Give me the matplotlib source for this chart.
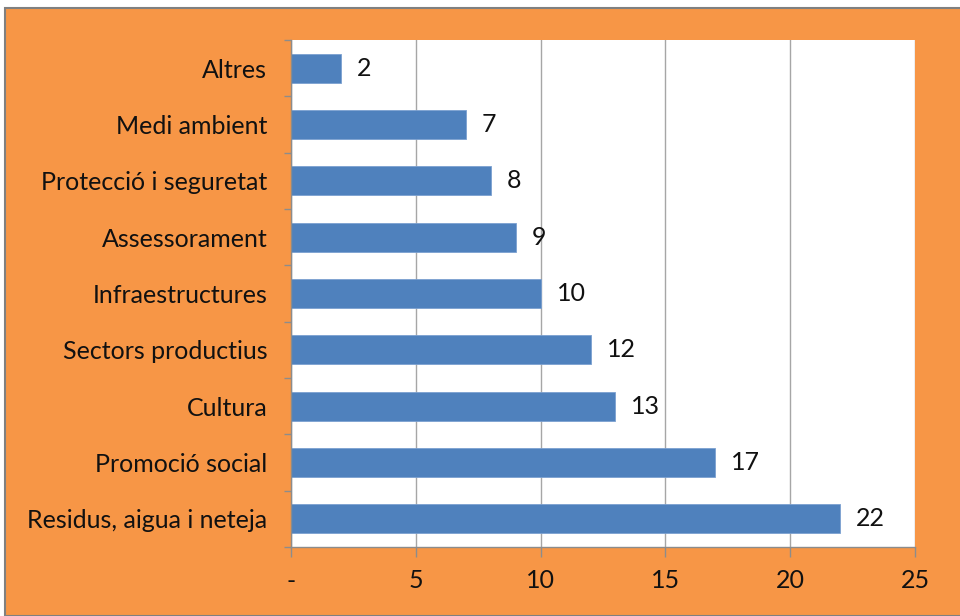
import matplotlib.pyplot as plt
from matplotlib.patches import Rectangle

# Categories from top to bottom and their counts
categories = ['Altres', 'Medi ambient', 'Protecció i seguretat', 'Assessorament',
              'Infraestructures', 'Sectors productius', 'Cultura',
              'Promoció social', 'Residus, aigua i neteja']
values = [2, 7, 8, 9, 10, 12, 13, 17, 22]
xticks = [0, 5, 10, 15, 20, 25]
xtick_labels = ['-', '5', '10', '15', '20', '25']

orange = '#F79646'
blue = '#4F81BD'
grey = '#8C8C8C'
plt.rcParams['font.family'] = ['Lato', 'DejaVu Sans']

fig = plt.figure(figsize=(9.6, 6.16), dpi=100, facecolor='white')

# orange chart area with a thin grey border, kept behind the axes
W, H = 960, 616
frame = Rectangle((5 / W, 0), 1, (H - 8) / H, transform=fig.transFigure,
                  facecolor=orange, edgecolor='#808080', linewidth=1.5, zorder=-1)
fig.add_artist(frame)

ax = fig.add_axes([291 / W, (H - 547) / H, (915 - 291) / W, (547 - 40) / H])
ax.set_facecolor('white')

n = len(categories)
ypos = list(range(n - 1, -1, -1))
ax.barh(ypos, values, height=0.52, color=blue, edgecolor='#7BA0D0', linewidth=0.6, zorder=3)

for y, v in zip(ypos, values):
    ax.annotate(str(v), (v, y), xytext=(11.5, 0), textcoords='offset points',
                va='center', ha='left', fontsize=18, color='#111111', zorder=4)

ax.set_xlim(0, 25)
ax.set_ylim(-0.5, n - 0.5)
ax.set_xticks(xticks)
ax.set_xticklabels(xtick_labels)
ax.set_yticks(ypos)
ax.set_yticklabels(categories)
ax.set_yticks([i - 0.5 for i in range(n + 1)], minor=True)

ax.tick_params(axis='x', length=7.2, width=1, color=grey, pad=9,
               labelsize=18, labelcolor='#111111')
ax.tick_params(axis='y', which='major', length=0, pad=17, labelsize=18, labelcolor='#111111')
ax.tick_params(axis='y', which='minor', length=5, width=1, color=grey)

ax.grid(axis='x', color='#A6A6A6', linewidth=1, zorder=1)
for side in ['top', 'right']:
    ax.spines[side].set_visible(False)
for side in ['left', 'bottom']:
    ax.spines[side].set_color(grey)
    ax.spines[side].set_linewidth(1)
    ax.spines[side].set_zorder(5)

fig.savefig('out.png', dpi=100, facecolor=fig.get_facecolor())
